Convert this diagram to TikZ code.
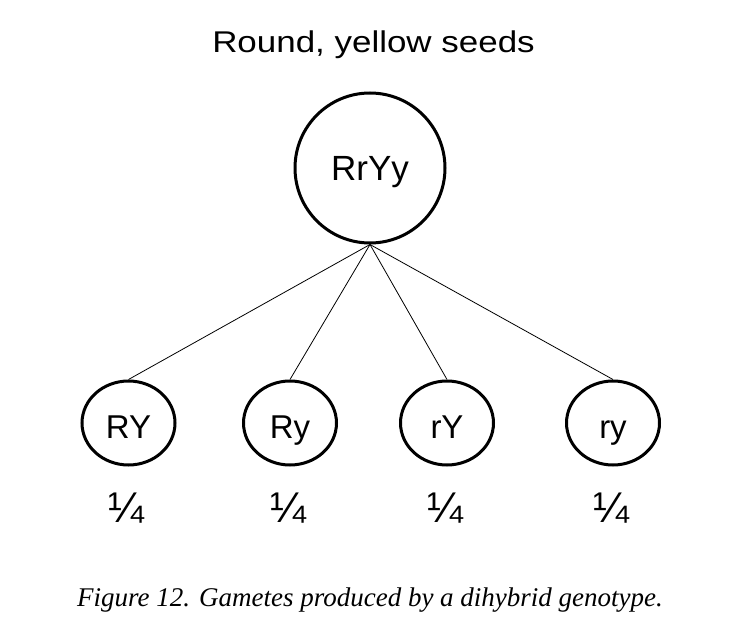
\documentclass[tikz,border=0pt]{standalone}
\usepackage{fontspec}
\setmainfont{Liberation Sans}
\newfontfamily\capfont{Liberation Serif}
\usetikzlibrary{shapes.geometric}
\begin{document}
\begin{tikzpicture}[x=1pt,y=-1pt,
  parent/.style={circle,draw,line width=3pt,minimum size=150pt,inner sep=0pt,
    text height=24pt,text depth=0pt,font=\fontsize{35}{40}\selectfont},
  gamete/.style={ellipse,draw,line width=3pt,minimum width=93pt,minimum height=84pt,inner sep=0pt,
    text height=30pt,text depth=0pt,font=\fontsize{33}{38}\selectfont},
  frac/.style={anchor=base,inner sep=0pt,font=\fontsize{43}{48}\selectfont},
  link/.style={line width=0.8pt}]
\useasboundingbox (0,0) rectangle (748,626);
\node[anchor=base,inner sep=0pt] (title) at (373.5,53) {\scalebox{1.165}[1]{\fontsize{30}{34}\selectfont Round, yellow seeds}};
\node[parent] (p) at (370,168) {RrYy};
\node[gamete] (g1) at (128.5,423) {RY};
\node[gamete] (g2) at (290,423) {Ry};
\node[gamete] (g3) at (447,423) {rY};
\node[gamete] (g4) at (613,423) {ry};
\node[frac] (f1) at (126,522) {¼};
\node[frac] (f2) at (288,522) {¼};
\node[frac] (f3) at (445,522) {¼};
\node[frac] (f4) at (611,522) {¼};
\foreach \g in {g1,g2,g3,g4} \draw[link] (p.south) -- (\g.north);
\node[anchor=base,inner sep=0pt] (cap) at (370,606) {\capfont\itshape\fontsize{27}{30}\selectfont Figure 12. Gametes produced by a dihybrid genotype.};
\end{tikzpicture}
\end{document}
